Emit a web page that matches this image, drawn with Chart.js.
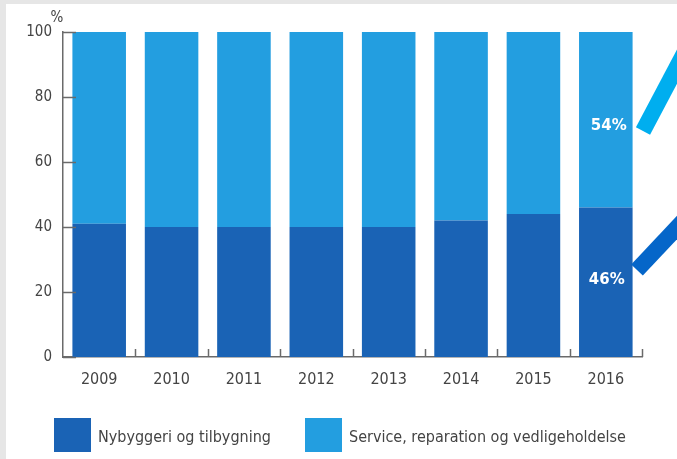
<!DOCTYPE html>
<html lang="no">
<head>
<meta charset="UTF-8">
<title>Nybyggeri vs service</title>
<script src="https://cdn.jsdelivr.net/npm/chart.js"></script>
<style>
html, body { margin: 0; padding: 0; background: #e6e6e6; }
#wrap { width: 677px; height: 459px; position: relative; }
</style>
</head>
<body>
<div id="wrap"><canvas id="chart" width="677" height="459"></canvas></div>
<script>
const years = ['2009', '2010', '2011', '2012', '2013', '2014', '2015', '2016'];
const nybygg = [41, 40, 40, 40, 40, 42, 44, 46];
const service = [59, 60, 60, 60, 60, 58, 56, 54];
const yTicks = [0, 20, 40, 60, 80, 100];

const darkBlue = '#1a63b5';
const lightBlue = '#239ee0';
const axisGray = '#6a6a6a';
const textGray = '#444';
const fontFam = "'Liberation Sans Narrow', 'DejaVu Sans Condensed', sans-serif";

// grey frame + white panel, inward tick stubs, % sign, value labels, arrows, legend
const decor = {
    id: 'decor',
    beforeDraw(chart) {
        const c = chart.ctx;
        c.save();
        c.fillStyle = '#e6e6e6';
        c.fillRect(0, 0, chart.width, chart.height);
        c.fillStyle = '#ffffff';
        c.fillRect(6, 4, chart.width - 6, chart.height - 4);
        c.restore();
    },
    afterDraw(chart) {
        const c = chart.ctx;
        const x = chart.scales.x, y = chart.scales.y;
        const area = chart.chartArea;
        c.save();
        c.strokeStyle = axisGray;
        c.lineWidth = 1.5;
        // y tick stubs pointing inward
        yTicks.forEach(v => {
            const py = Math.round(y.getPixelForValue(v)) + 0.5;
            c.beginPath();
            c.moveTo(area.left, py);
            c.lineTo(area.left + 13, py);
            c.stroke();
        });
        // x tick stubs at category borders
        const step = x.getPixelForValue(1) - x.getPixelForValue(0);
        for (let i = 0; i < years.length; i++) {
            const bx = Math.round(x.getPixelForValue(i) + step / 2);
            c.beginPath();
            c.moveTo(bx + 0.5, area.bottom);
            c.lineTo(bx + 0.5, area.bottom - 8);
            c.stroke();
        }
        // percent sign
        c.fillStyle = textGray;
        c.font = '15px ' + fontFam;
        c.textAlign = 'center';
        c.textBaseline = 'middle';
        c.fillText('%', 57, 18);

        // value labels on last bar
        const last = years.length - 1;
        const bx = x.getPixelForValue(last);
        const darkMid = (y.getPixelForValue(0) + y.getPixelForValue(nybygg[last])) / 2;
        const lightMid = (y.getPixelForValue(nybygg[last]) + y.getPixelForValue(100)) / 2;
        c.fillStyle = '#ffffff';
        c.font = 'bold 15px DejaVu Sans, sans-serif';
        c.fillText(service[last] + '%', bx + 3, lightMid + 6);
        c.fillText(nybygg[last] + '%', bx + 1, darkMid - 2);

        // arrows pointing out of frame
        c.lineCap = 'butt';
        c.lineWidth = 16;
        c.strokeStyle = '#00aeef';
        c.beginPath();
        c.moveTo(643, 131);
        c.lineTo(690, 42);
        c.stroke();
        c.strokeStyle = '#0566c9';
        c.beginPath();
        c.moveTo(637, 270);
        c.lineTo(700, 203);
        c.stroke();

        // legend
        const legendX = [54, 305];
        c.font = '16px ' + fontFam;
        c.textAlign = 'left';
        chart.data.datasets.forEach((ds, i) => {
            c.fillStyle = ds.backgroundColor;
            c.fillRect(legendX[i], 418, 37, 34);
            c.fillStyle = textGray;
            c.fillText(ds.label, legendX[i] + 44, 438);
        });
        c.restore();
    }
};

new Chart(document.getElementById('chart'), {
    type: 'bar',
    data: {
        labels: years,
        datasets: [
            {
                label: 'Nybyggeri og tilbygning',
                data: nybygg,
                backgroundColor: darkBlue,
                barPercentage: 0.74,
                categoryPercentage: 1
            },
            {
                label: 'Service, reparation og vedligeholdelse',
                data: service,
                backgroundColor: lightBlue,
                barPercentage: 0.74,
                categoryPercentage: 1
            }
        ]
    },
    options: {
        responsive: false,
        animation: false,
        layout: { padding: { left: 6, right: 35, top: 32, bottom: 62 } },
        plugins: {
            tooltip: { enabled: false },
            legend: { display: false }
        },
        scales: {
            x: {
                stacked: true,
                offset: true,
                grid: { display: false, drawTicks: false },
                border: { display: true, color: axisGray, width: 1.5 },
                ticks: { color: textGray, font: { family: fontFam, size: 16 }, padding: 13 },
                afterFit(s) { s.height = 40; }
            },
            y: {
                stacked: true,
                min: 0,
                max: 100,
                afterBuildTicks(s) { s.ticks = yTicks.map(v => ({ value: v })); },
                grid: { display: false, drawTicks: false },
                border: { display: true, color: axisGray, width: 1.5 },
                ticks: { color: textGray, font: { family: fontFam, size: 15 }, padding: 11 },
                afterFit(s) { s.width = 57; }
            }
        }
    },
    plugins: [decor]
});
</script>
</body>
</html>
